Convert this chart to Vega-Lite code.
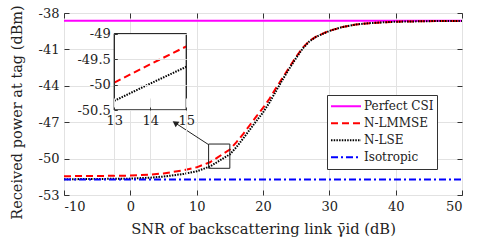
{
  "$schema": "https://vega.github.io/schema/vega-lite/v6.json",
  "autosize": {"type": "none"},
  "width": 398,
  "height": 182,
  "padding": {"left": 64, "top": 13, "right": 29, "bottom": 51},
  "background": "white",
  "config": {
    "font": "DejaVu Serif",
    "view": {"stroke": "#222", "strokeWidth": 1},
    "axis": {
      "labelFont": "DejaVu Serif",
      "labelFontSize": 13,
      "labelColor": "#222",
      "titleFont": "DejaVu Serif",
      "titleFontSize": 14,
      "titleFontWeight": "normal",
      "titleColor": "#222",
      "gridColor": "#e2e2e2",
      "gridWidth": 1,
      "domain": false,
      "tickColor": "#333",
      "tickSize": -5,
      "labelPadding": 10,
      "labelExpr": "replace(datum.label, '−', '-')"
    },
    "legend": {"labelFont": "DejaVu Serif"}
  },
  "datasets": {
    "lines": [
      {"snr": -10, "power": -38.63, "scheme": "Perfect CSI"},
      {"snr": 50, "power": -38.63, "scheme": "Perfect CSI"},
      {"snr": -10, "power": -51.45, "scheme": "N-LMMSE"},
      {"snr": -5, "power": -51.43, "scheme": "N-LMMSE"},
      {"snr": 0, "power": -51.4, "scheme": "N-LMMSE"},
      {"snr": 3, "power": -51.32, "scheme": "N-LMMSE"},
      {"snr": 5, "power": -51.22, "scheme": "N-LMMSE"},
      {"snr": 8, "power": -50.97, "scheme": "N-LMMSE"},
      {"snr": 10, "power": -50.72, "scheme": "N-LMMSE"},
      {"snr": 12, "power": -50.3, "scheme": "N-LMMSE"},
      {"snr": 13, "power": -49.96, "scheme": "N-LMMSE"},
      {"snr": 14, "power": -49.6, "scheme": "N-LMMSE"},
      {"snr": 15, "power": -49.25, "scheme": "N-LMMSE"},
      {"snr": 16, "power": -48.65, "scheme": "N-LMMSE"},
      {"snr": 17, "power": -47.98, "scheme": "N-LMMSE"},
      {"snr": 18, "power": -47.25, "scheme": "N-LMMSE"},
      {"snr": 19, "power": -46.52, "scheme": "N-LMMSE"},
      {"snr": 20, "power": -45.82, "scheme": "N-LMMSE"},
      {"snr": 21, "power": -45.05, "scheme": "N-LMMSE"},
      {"snr": 22, "power": -44.15, "scheme": "N-LMMSE"},
      {"snr": 23, "power": -43.3, "scheme": "N-LMMSE"},
      {"snr": 24, "power": -42.45, "scheme": "N-LMMSE"},
      {"snr": 25, "power": -41.6, "scheme": "N-LMMSE"},
      {"snr": 26, "power": -40.85, "scheme": "N-LMMSE"},
      {"snr": 27, "power": -40.3, "scheme": "N-LMMSE"},
      {"snr": 28, "power": -39.95, "scheme": "N-LMMSE"},
      {"snr": 29, "power": -39.7, "scheme": "N-LMMSE"},
      {"snr": 30, "power": -39.47, "scheme": "N-LMMSE"},
      {"snr": 32, "power": -39.15, "scheme": "N-LMMSE"},
      {"snr": 34, "power": -38.95, "scheme": "N-LMMSE"},
      {"snr": 36, "power": -38.84, "scheme": "N-LMMSE"},
      {"snr": 38, "power": -38.77, "scheme": "N-LMMSE"},
      {"snr": 40, "power": -38.72, "scheme": "N-LMMSE"},
      {"snr": 45, "power": -38.67, "scheme": "N-LMMSE"},
      {"snr": 50, "power": -38.65, "scheme": "N-LMMSE"},
      {"snr": -10, "power": -51.7, "scheme": "N-LSE"},
      {"snr": -5, "power": -51.68, "scheme": "N-LSE"},
      {"snr": 0, "power": -51.65, "scheme": "N-LSE"},
      {"snr": 3, "power": -51.57, "scheme": "N-LSE"},
      {"snr": 5, "power": -51.48, "scheme": "N-LSE"},
      {"snr": 8, "power": -51.27, "scheme": "N-LSE"},
      {"snr": 10, "power": -51.05, "scheme": "N-LSE"},
      {"snr": 12, "power": -50.65, "scheme": "N-LSE"},
      {"snr": 13, "power": -50.32, "scheme": "N-LSE"},
      {"snr": 14, "power": -49.98, "scheme": "N-LSE"},
      {"snr": 15, "power": -49.65, "scheme": "N-LSE"},
      {"snr": 16, "power": -49.05, "scheme": "N-LSE"},
      {"snr": 17, "power": -48.35, "scheme": "N-LSE"},
      {"snr": 18, "power": -47.62, "scheme": "N-LSE"},
      {"snr": 19, "power": -46.9, "scheme": "N-LSE"},
      {"snr": 20, "power": -46.2, "scheme": "N-LSE"},
      {"snr": 21, "power": -45.35, "scheme": "N-LSE"},
      {"snr": 22, "power": -44.4, "scheme": "N-LSE"},
      {"snr": 23, "power": -43.45, "scheme": "N-LSE"},
      {"snr": 24, "power": -42.55, "scheme": "N-LSE"},
      {"snr": 25, "power": -41.7, "scheme": "N-LSE"},
      {"snr": 26, "power": -40.92, "scheme": "N-LSE"},
      {"snr": 27, "power": -40.33, "scheme": "N-LSE"},
      {"snr": 28, "power": -39.97, "scheme": "N-LSE"},
      {"snr": 29, "power": -39.72, "scheme": "N-LSE"},
      {"snr": 30, "power": -39.48, "scheme": "N-LSE"},
      {"snr": 32, "power": -39.15, "scheme": "N-LSE"},
      {"snr": 34, "power": -38.95, "scheme": "N-LSE"},
      {"snr": 36, "power": -38.84, "scheme": "N-LSE"},
      {"snr": 38, "power": -38.77, "scheme": "N-LSE"},
      {"snr": 40, "power": -38.72, "scheme": "N-LSE"},
      {"snr": 45, "power": -38.67, "scheme": "N-LSE"},
      {"snr": 50, "power": -38.65, "scheme": "N-LSE"},
      {"snr": -10, "power": -51.72, "scheme": "Isotropic"},
      {"snr": 50, "power": -51.72, "scheme": "Isotropic"}
    ]
  },
  "layer": [
    {
      "layer": [
        {
          "data": {"name": "lines"},
          "mark": {"type": "line", "strokeWidth": 2},
          "encoding": {
            "x": {
              "field": "snr", "type": "quantitative",
              "scale": {"domain": [-10, 50], "nice": false, "zero": false},
              "axis": {"orient": "bottom", "values": [-10, 0, 10, 20, 30, 40, 50], "grid": true, "title": "SNR of backscattering link γ̄id (dB)", "titleFontSize": 14.7, "titlePadding": 8}
            },
            "y": {
              "field": "power", "type": "quantitative",
              "scale": {"domain": [-53, -38], "nice": false, "zero": false},
              "axis": {"orient": "left", "values": [-53, -50, -47, -44, -41, -38], "grid": true, "title": "Received power at tag (dBm)", "titleFontSize": 14.5, "titlePadding": 14, "titleY": 99}
            },
            "color": {
              "field": "scheme", "type": "nominal",
              "scale": {"domain": ["Perfect CSI", "N-LMMSE", "N-LSE", "Isotropic"], "range": ["#ff00ff", "#ff0000", "#000000", "#0000ff"]},
              "legend": {"title": null, "orient": "none", "legendX": 263, "legendY": 82, "strokeColor": "#333", "fillColor": "white", "padding": 3, "labelFontSize": 12, "labelColor": "#222", "symbolType": "stroke", "symbolSize": 900, "symbolStrokeWidth": 2, "rowPadding": 0, "clipHeight": 16.5, "labelOffset": 2}
            },
            "strokeDash": {
              "field": "scheme", "type": "nominal",
              "scale": {"domain": ["Perfect CSI", "N-LMMSE", "N-LSE", "Isotropic"], "range": [[1, 0], [7, 4], [1.5, 1.2], [7, 3, 2, 3]]},
              "legend": {"title": null, "orient": "none", "legendX": 263, "legendY": 82, "strokeColor": "#333", "fillColor": "white", "padding": 3, "labelFontSize": 12, "labelColor": "#222", "symbolType": "stroke", "symbolSize": 900, "symbolStrokeWidth": 2, "rowPadding": 0, "clipHeight": 16.5, "labelOffset": 2}
            }
          }
        },
        {
          "data": {"values": [{"snr": -10, "power": -53}]},
          "mark": {"type": "point", "opacity": 0},
          "encoding": {
            "x": {"field": "snr", "type": "quantitative", "axis": {"orient": "top", "values": [-10, 0, 10, 20, 30, 40, 50], "labels": false, "grid": false, "title": null}},
            "y": {"field": "power", "type": "quantitative", "axis": {"orient": "right", "values": [-53, -50, -47, -44, -41, -38], "labels": false, "grid": false, "title": null}}
          }
        },
        {
          "data": {"values": [{"x1": 11.8, "x2": 15, "y1": -50.8, "y2": -48.8}]},
          "mark": {"type": "rect", "fill": null, "stroke": "#222", "strokeWidth": 1},
          "encoding": {
            "x": {"field": "x1", "type": "quantitative", "axis": null},
            "x2": {"field": "x2"},
            "y": {"field": "y1", "type": "quantitative", "axis": null},
            "y2": {"field": "y2"}
          }
        },
        {
          "data": {"values": [{"x1": 11.8, "y1": -48.85, "x2": 6.6, "y2": -47.0}]},
          "mark": {"type": "rule", "stroke": "#222", "strokeWidth": 1},
          "encoding": {
            "x": {"field": "x1", "type": "quantitative", "axis": null},
            "x2": {"field": "x2"},
            "y": {"field": "y1", "type": "quantitative", "axis": null},
            "y2": {"field": "y2"}
          }
        },
        {
          "data": {"values": [{"x": 6.75, "y": -47.05}]},
          "mark": {"type": "point", "shape": "triangle-up", "filled": true, "color": "#222", "opacity": 1, "size": 45, "angle": 304},
          "encoding": {
            "x": {"field": "x", "type": "quantitative", "axis": null},
            "y": {"field": "y", "type": "quantitative", "axis": null}
          }
        }
      ],
      "resolve": {"axis": {"x": "independent", "y": "independent"}}
    },
    {
      "layer": [
        {
          "data": {"values": [{"x1": 13, "x2": 15, "y1": -50.5, "y2": -49}]},
          "mark": {"type": "rect", "fill": "white", "stroke": "#222", "strokeWidth": 1},
          "encoding": {
            "x": {
              "field": "x1", "type": "quantitative",
              "scale": {"domain": [13, 15], "range": [50.3, 122.3], "nice": false, "zero": false},
              "axis": {"orient": "bottom", "offset": -85, "values": [13, 14, 15], "format": "~g", "labelOverlap": false, "labelFlush": false, "labelBound": false, "grid": true, "title": null, "zindex": 1, "tickSize": -3, "labelPadding": 7}
            },
            "x2": {"field": "x2"},
            "y": {
              "field": "y1", "type": "quantitative",
              "scale": {"domain": [-50.5, -49], "range": [97, 20.7], "nice": false, "zero": false},
              "axis": {"orient": "left", "offset": -50.3, "values": [-50.5, -50, -49.5, -49], "format": "~g", "labelOverlap": false, "labelFlush": false, "labelBound": false, "grid": true, "title": null, "zindex": 1, "tickSize": -3, "labelPadding": 7}
            },
            "y2": {"field": "y2"}
          }
        },
        {
          "data": {"name": "lines"},
          "transform": [{"filter": "datum.scheme === 'N-LMMSE' && datum.snr >= 13 && datum.snr <= 15"}],
          "mark": {"type": "line", "stroke": "#ff0000", "strokeWidth": 2, "strokeDash": [7, 4]},
          "encoding": {
            "x": {"field": "snr", "type": "quantitative", "axis": null},
            "y": {"field": "power", "type": "quantitative", "axis": null}
          }
        },
        {
          "data": {"name": "lines"},
          "transform": [{"filter": "datum.scheme === 'N-LSE' && datum.snr >= 13 && datum.snr <= 15"}],
          "mark": {"type": "line", "stroke": "#000000", "strokeWidth": 2, "strokeDash": [1.5, 1.2]},
          "encoding": {
            "x": {"field": "snr", "type": "quantitative", "axis": null},
            "y": {"field": "power", "type": "quantitative", "axis": null}
          }
        },
        {
          "data": {"values": [{"x1": 13, "x2": 15, "y1": -50.5, "y2": -49}]},
          "mark": {"type": "rect", "fill": null, "stroke": "#222", "strokeWidth": 1},
          "encoding": {
            "x": {"field": "x1", "type": "quantitative", "axis": null},
            "x2": {"field": "x2"},
            "y": {"field": "y1", "type": "quantitative", "axis": null},
            "y2": {"field": "y2"}
          }
        }
      ],
      "resolve": {"axis": {"x": "independent", "y": "independent"}}
    }
  ],
  "resolve": {"scale": {"x": "independent", "y": "independent"}, "axis": {"x": "independent", "y": "independent"}}
}
